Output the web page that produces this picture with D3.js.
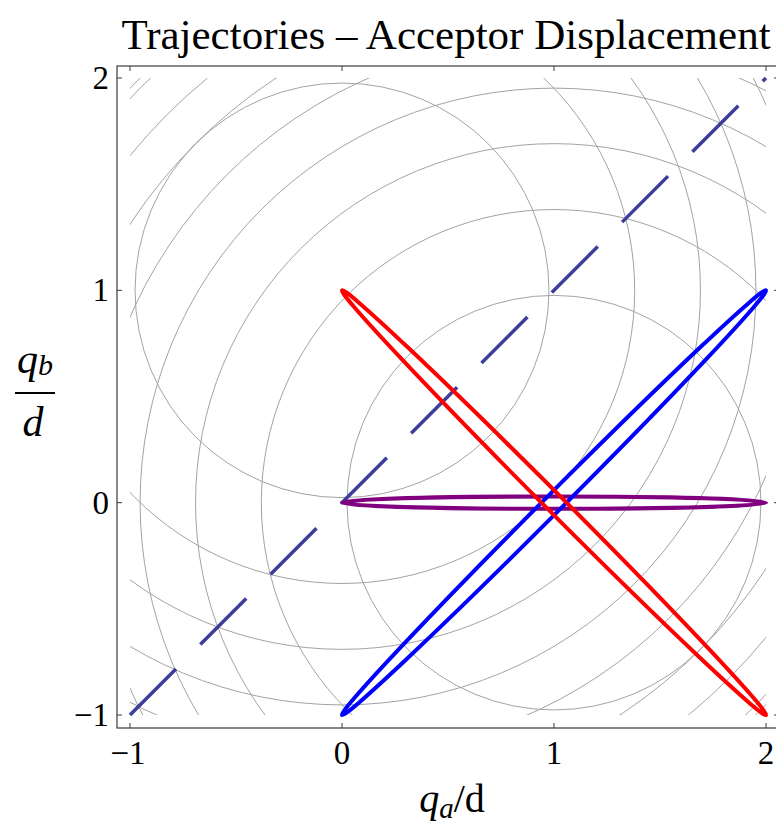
<!DOCTYPE html>
<html>
<head>
<meta charset="utf-8">
<script src="https://cdn.jsdelivr.net/npm/d3@7"></script>
<style>
  html, body { margin: 0; padding: 0; background: #fff; }
  svg { display: block; }
  text { font-family: "Liberation Serif", "Times New Roman", serif; fill: #000; }
</style>
</head>
<body>
<svg id="chart" width="776" height="827"></svg>
<script>
// Axis ranges and ticks
const xDomain = [-1, 2];
const yDomain = [-1, 2];
const xTicks = [-1, 0, 1, 2];
const yTicks = [-1, 0, 1, 2];

// Potential wells: contour circles around each minimum, listed by squared radius
const wellCenters = [[0, 1], [1, 0]];
const contourRadiusSq = [0.953, 1.906, 2.859, 3.812, 4.765, 5.718, 6.671, 7.624];

// Diagonal qa = qb
const diagonal = [[-1, -1], [2, 2]];

// Trajectories: thin closed orbits around (1, 0)
const trajNames = ["purple", "blue", "red"];
const trajCenters = [[1, 0], [1, 0], [1, 0]];
const trajTips = [[2, 0], [2, 1], [0, 1]];
const trajHalfWidths = [0.029, 0.042, 0.042];
const trajColors = ["#800080", "#0000ff", "#ff0000"];

const svg = d3.select("#chart");

const x = d3.scaleLinear().domain(xDomain).range([130, 766]);
const y = d3.scaleLinear().domain(yDomain).range([715, 78]);

const frame = { left: 117, right: 779, top: 66, bottom: 728 };

// Title
svg.append("text")
  .attr("x", 446).attr("y", 49)
  .attr("text-anchor", "middle")
  .attr("font-size", 43)
  .text("Trajectories – Acceptor Displacement");

// Clip region for the contour lines
svg.append("defs").append("clipPath").attr("id", "plotClip")
  .append("rect")
  .attr("x", x(xDomain[0])).attr("y", y(yDomain[1]))
  .attr("width", x(xDomain[1]) - x(xDomain[0]))
  .attr("height", y(yDomain[0]) - y(yDomain[1]));

// Contours
const contours = svg.append("g").attr("clip-path", "url(#plotClip)");
wellCenters.forEach(c => {
  contours.selectAll(null)
    .data(contourRadiusSq)
    .enter().append("ellipse")
    .attr("cx", x(c[0])).attr("cy", y(c[1]))
    .attr("rx", d => x(Math.sqrt(d)) - x(0))
    .attr("ry", d => y(0) - y(Math.sqrt(d)))
    .attr("fill", "none")
    .attr("stroke", "#a3a3a3")
    .attr("stroke-width", 1);
});

// Dashed diagonal
svg.append("path")
  .attr("d", d3.line().x(d => x(d[0])).y(d => y(d[1]))(diagonal))
  .attr("fill", "none")
  .attr("stroke", "#3d3d9c")
  .attr("stroke-width", 3.5)
  .attr("stroke-dasharray", "65 34.5");

// Trajectories
const unitPx = x(1) - x(0);
trajNames.forEach((name, i) => {
  const c = trajCenters[i], t = trajTips[i];
  const cx = x(c[0]), cy = y(c[1]);
  const tx = x(t[0]), ty = y(t[1]);
  const rx = Math.hypot(tx - cx, ty - cy);
  const ang = Math.atan2(ty - cy, tx - cx) * 180 / Math.PI;
  svg.append("ellipse")
    .attr("class", "traj-" + name)
    .attr("cx", cx).attr("cy", cy)
    .attr("rx", rx).attr("ry", trajHalfWidths[i] * unitPx)
    .attr("transform", `rotate(${ang},${cx},${cy})`)
    .attr("fill", "none")
    .attr("stroke", trajColors[i])
    .attr("stroke-width", 4);
});

// Frame
svg.append("rect")
  .attr("x", frame.left).attr("y", frame.top)
  .attr("width", frame.right - frame.left)
  .attr("height", frame.bottom - frame.top)
  .attr("fill", "none").attr("stroke", "#3a3a3a").attr("stroke-width", 1.2);

// Ticks on all four sides, pointing inward
const tickLen = 5;
const ticks = svg.append("g").attr("stroke", "#3a3a3a").attr("stroke-width", 1);
xTicks.forEach(v => {
  ticks.append("line").attr("x1", x(v)).attr("x2", x(v))
    .attr("y1", frame.bottom).attr("y2", frame.bottom - tickLen);
  ticks.append("line").attr("x1", x(v)).attr("x2", x(v))
    .attr("y1", frame.top).attr("y2", frame.top + tickLen);
});
yTicks.forEach(v => {
  ticks.append("line").attr("y1", y(v)).attr("y2", y(v))
    .attr("x1", frame.left).attr("x2", frame.left + tickLen);
  ticks.append("line").attr("y1", y(v)).attr("y2", y(v))
    .attr("x1", frame.right).attr("x2", frame.right - tickLen);
});

const fmt = v => (v < 0 ? "\u2212" : "") + Math.abs(v);

// Tick labels
svg.append("g").selectAll("text").data(xTicks).enter().append("text")
  .attr("x", d => x(d) - (d < 0 ? 2 : 0)).attr("y", 764)
  .attr("text-anchor", "middle").attr("font-size", 33)
  .text(fmt);
svg.append("g").selectAll("text").data(yTicks).enter().append("text")
  .attr("x", 109).attr("y", d => y(d) + 11)
  .attr("text-anchor", "end").attr("font-size", 33)
  .text(fmt);

// x-axis label: q_a/d
const xl = svg.append("text").attr("x", 452).attr("y", 812)
  .attr("text-anchor", "middle").attr("font-size", 40);
xl.append("tspan").attr("font-style", "italic").text("q");
xl.append("tspan").attr("font-style", "italic").attr("font-size", 29).attr("dy", 6).text("a");
xl.append("tspan").attr("dy", -6).text("/d");

// y-axis label: q_b over d
const yl = svg.append("g");
const num = yl.append("text").attr("x", 35).attr("y", 373)
  .attr("text-anchor", "middle").attr("font-size", 42);
num.append("tspan").attr("font-style", "italic").text("q");
num.append("tspan").attr("font-style", "italic").attr("font-size", 30).attr("dy", 2).text("b");
yl.append("line").attr("x1", 15).attr("x2", 55).attr("y1", 393).attr("y2", 393)
  .attr("stroke", "#000").attr("stroke-width", 2);
yl.append("text").attr("x", 33).attr("y", 436)
  .attr("text-anchor", "middle").attr("font-size", 42)
  .attr("font-style", "italic").text("d");
</script>
</body>
</html>
